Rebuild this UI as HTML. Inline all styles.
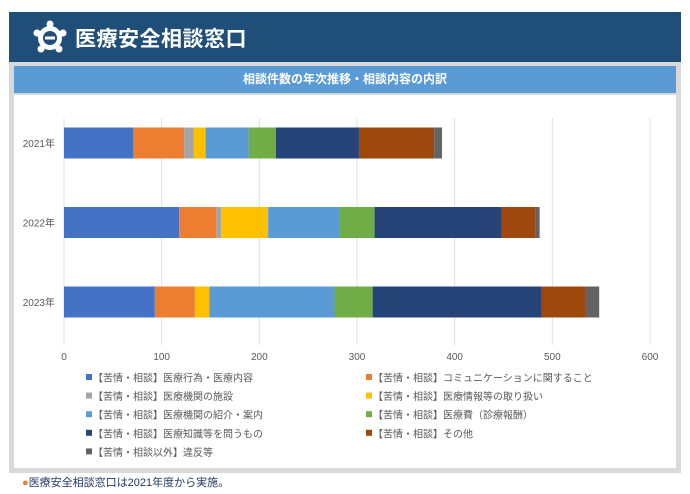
<!DOCTYPE html>
<html><head><meta charset="utf-8"><style>
body{margin:0;width:690px;height:494px;background:#fff;font-family:"Liberation Sans","Noto Sans CJK JP",sans-serif;position:relative;overflow:hidden}
.hdr{position:absolute;left:9px;top:12px;width:672px;height:50px;background:#1f4e79;color:#fff}
.hdr h1{position:absolute;left:66px;top:11px;margin:0;font-size:21px;font-weight:bold;letter-spacing:0.5px}
.panel{position:absolute;left:9px;top:62px;width:672px;height:411px;background:#d9d9d9}
.inner{position:absolute;left:5px;top:33px;width:662px;height:373px;background:#fff}
.title{position:absolute;left:5px;top:4px;width:662px;height:27px;background:#5b9bd5;color:#fff;font-size:12px;font-weight:bold;text-align:center;line-height:27px}
.foot{position:absolute;left:22px;top:474px;font-size:11px;color:#1f3864}
.foot span{color:#ed7d31}
</style></head><body>
<div class="hdr">
<svg style="position:absolute;left:24px;top:8px" width="34" height="34" viewBox="0 0 34 34">
<circle cx="17" cy="18" r="12" fill="#fff"/><circle cx="17" cy="4" r="3.5" fill="#fff"/><circle cx="4" cy="13" r="3.5" fill="#fff"/><circle cx="30" cy="13" r="3.5" fill="#fff"/><circle cx="8" cy="29" r="3.5" fill="#fff"/><circle cx="26" cy="29" r="3.5" fill="#fff"/>
<circle cx="17" cy="18" r="7" fill="#1f4e79"/><rect x="12" y="16.5" width="10" height="3" fill="#fff"/></svg>
<h1>医療安全相談窓口</h1></div>
<div class="panel">
<div class="title">相談件数の年次推移・相談内容の内訳</div>
<div class="inner"></div></div>
<svg id="chart" style="position:absolute;left:0;top:0" width="690" height="494"></svg>
<div class="foot"><span>●</span>医療安全相談窓口は2021年度から実施。</div>
<script>
const categories=["2021年","2022年","2023年"];
const seriesNames=["【苦情・相談】医療行為・医療内容","【苦情・相談】コミュニケーションに関すること","【苦情・相談】医療機関の施設","【苦情・相談】医療情報等の取り扱い","【苦情・相談】医療機関の紹介・案内","【苦情・相談】医療費（診療報酬）","【苦情・相談】医療知識等を問うもの","【苦情・相談】その他","【苦情・相談以外】違反等"];
const s1=[71,118,93];
const s2=[52,38,41];
const s3=[10,5,0];
const s4=[12,48,15];
const s5=[44,73,128];
const s6=[28,36,39];
const s7=[85,130,173];
const s8=[77,35,45];
const s9=[8,4,14];
const ticks=[0,100,200,300,400,500,600];
const series=[s1,s2,s3,s4,s5,s6,s7,s8,s9];
const colors=["#4472c4","#ed7d31","#a5a5a5","#ffc000","#5b9bd5","#70ad47","#264478","#9e480e","#636363"];
const NS="http://www.w3.org/2000/svg";
const svg=document.getElementById('chart');
const x0=64,xMax=600,pw=586;
const xs=v=>x0+v/xMax*pw;
const yc=i=>143+i*79.5;
const bh=31;
function mk(t,a){const e=document.createElementNS(NS,t);for(const k in a)e.setAttribute(k,a[k]);svg.appendChild(e);return e;}
ticks.forEach(t=>{
 const g=mk('line',{x1:xs(t),x2:xs(t),y1:118,y2:345,stroke:'#e0e0e0','stroke-width':1});
 
 
 const l=mk('text',{x:xs(t),y:360,'font-size':10,fill:'#595959','text-anchor':'middle'});
 l.textContent=t;
 
 
});
categories.forEach((c,i)=>{
 const l=mk('text',{x:55,y:yc(i)+4,'font-size':10,fill:'#595959','text-anchor':'end'});
 l.textContent=c;
 
 
 let acc=0;
 series.forEach((s,j)=>{
  const v=s[i];
  const r=mk('rect',{x:xs(acc),y:yc(i)-bh/2,width:Math.max(0,xs(acc+v)-xs(acc)),height:bh,fill:colors[j]});
  
  
  acc+=v;
 });
});
seriesNames.forEach((n,j)=>{
 const col=j%2,row=Math.floor(j/2);
 const x=col?366:86,y=378+row*18.6;
 const m=mk('rect',{x:x,y:y-4,width:6,height:6,fill:colors[j]});
 
 
 const t=mk('text',{x:x+7,y:y+3.5,'font-size':10,fill:'#595959'});
 t.textContent=n;
 
 
});
</script>
</body></html>
